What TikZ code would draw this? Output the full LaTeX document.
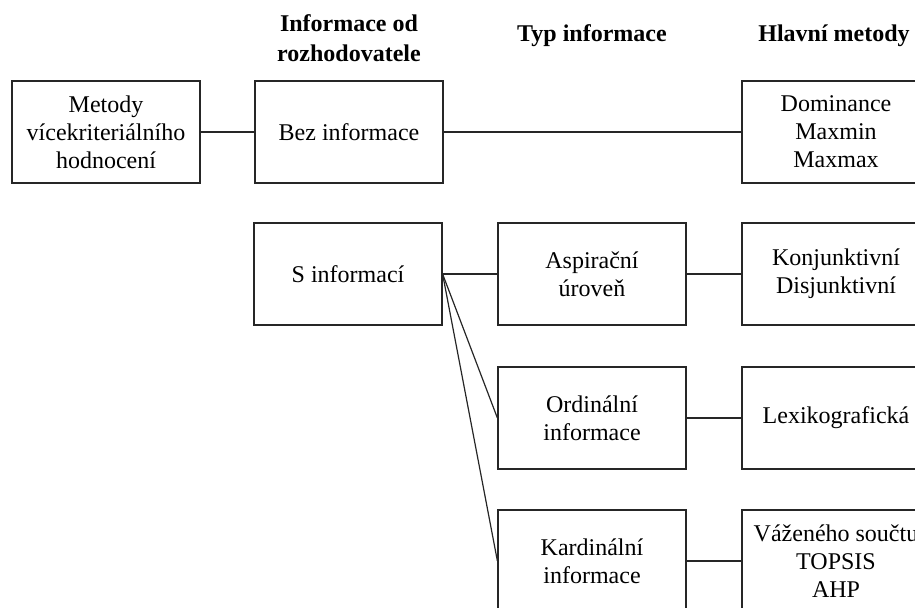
\documentclass[tikz,border=0pt]{standalone}
\usepackage{fontspec}
\setmainfont{Liberation Serif}

\begin{document}
\begin{tikzpicture}[x=0.5pt,y=-0.5pt]
		\tikzstyle{every node}+=[inner sep=0pt]
		\tikzstyle{box}=[draw, black!85, text=black, line width=0.6pt, minimum width=94pt, minimum height=51pt, align=center, font=\fontsize{12}{14}\selectfont]
		\tikzstyle{head}=[align=center, font=\fontsize{12}{15}\selectfont\bfseries]
		\useasboundingbox (0,0) rectangle (915,608);
		\clip (0,0) rectangle (915,608);
		% column heads
		\node [head] (h1) at (349,38) {Informace od\\rozhodovatele};
		\node [head] (h2) at (592,36) {Typ informace};
		\node [head] (h3) at (834,36) {Hlavní metody};
		% boxes
		\node [box] (metody) at (106,132) {Metody\\vícekriteriálního\\hodnocení};
		\node [box] (bez) at (349,132) {Bez informace};
		\node [box] (dom) at (836,132) {Dominance\\Maxmin\\Maxmax};
		\node [box] (sinf) at (348,274) {S informací};
		\node [box] (asp) at (592,274) {Aspirační\\úroveň};
		\node [box] (konj) at (836,274) {Konjunktivní\\Disjunktivní};
		\node [box] (ord) at (592,418) {Ordinální\\informace};
		\node [box] (lex) at (836,418) {Lexikografická};
		\node [box] (kard) at (592,561) {Kardinální\\informace};
		\node [box] (vaz) at (836,561) {Váženého součtu\\TOPSIS\\AHP};
		% connectors
		\draw [black!85, line width=0.6pt] (metody) -- (bez);
		\draw [black!85, line width=0.6pt] (bez) -- (dom);
		\draw [black!85, line width=0.6pt] (sinf) -- (asp);
		\draw [black!85, line width=0.6pt] (asp) -- (konj);
		\draw [black!85, line width=0.6pt] (sinf.east) -- (ord.west);
		\draw [black!85, line width=0.6pt] (sinf.east) -- (kard.west);
		\draw [black!85, line width=0.6pt] (ord) -- (lex);
		\draw [black!85, line width=0.6pt] (kard) -- (vaz);
\end{tikzpicture}
\end{document}
